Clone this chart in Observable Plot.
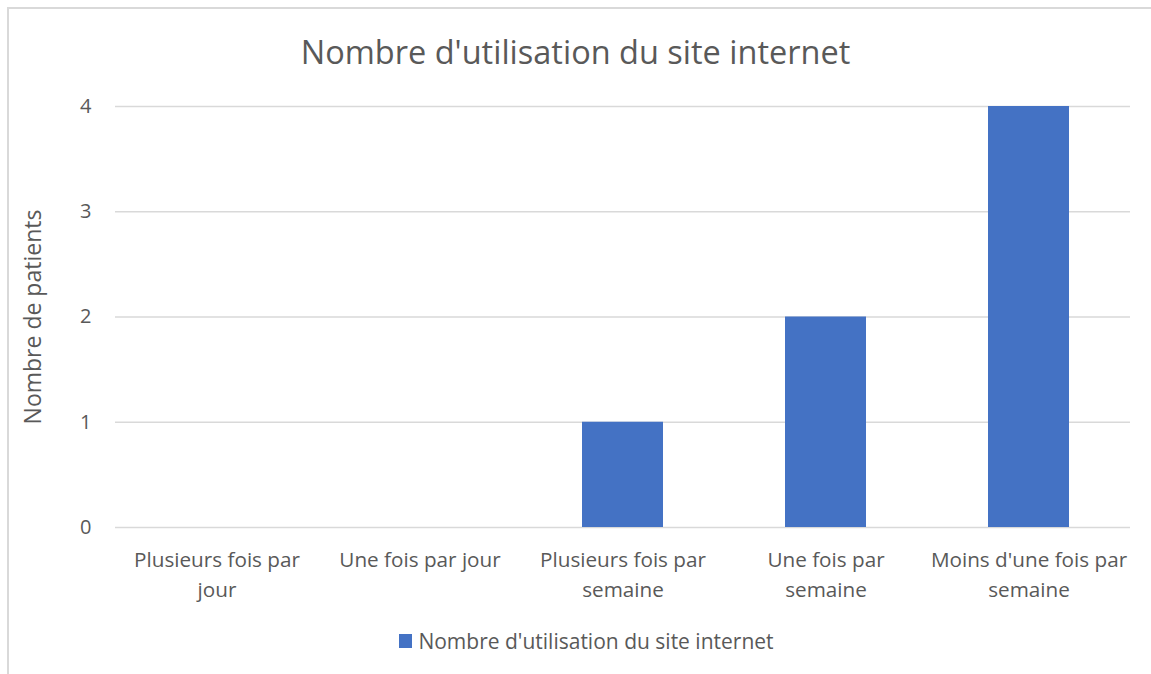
<!DOCTYPE html>
<html>
<head>
<meta charset="utf-8">
<script src="https://cdn.jsdelivr.net/npm/d3@7"></script>
<script src="https://cdn.jsdelivr.net/npm/@observablehq/plot@0.6"></script>
<style>
  html, body { margin: 0; padding: 0; background: #fff; }
  #wrap { position: relative; width: 1151px; height: 674px; overflow: hidden; font-family: "Open Sans", sans-serif; color: #595959; }
  #frame { position: absolute; left: 7px; top: 7px; width: 1160px; height: 700px; border-left: 2px solid #d9d9d9; border-top: 2px solid #d9d9d9; box-sizing: border-box; }
  #title { position: absolute; left: 0; top: 28px; width: 1151px; text-align: center; font-size: 32.5px; line-height: 48px; height: 48px; }
  #chart { position: absolute; left: 0; top: 90px; }
  #legend { position: absolute; left: 11px; top: 627px; width: 1151px; display: flex; justify-content: center; align-items: center; font-size: 21px; line-height: 28px; }
  #legend .sw { width: 13px; height: 14px; margin-right: 6px; }
</style>
</head>
<body>
<div id="wrap">
  <div id="frame"></div>
  <div id="title"></div>
  <div id="chart"></div>
  <div id="legend"></div>
</div>
<script>
const title = "Nombre d'utilisation du site internet";
const seriesName = "Nombre d'utilisation du site internet";
const yLabel = "Nombre de patients";
const categories = ["Plusieurs fois par jour", "Une fois par jour", "Plusieurs fois par semaine", "Une fois par semaine", "Moins d'une fois par semaine"];
const tickLabels = ["Plusieurs fois par\njour", "Une fois par jour", "Plusieurs fois par\nsemaine", "Une fois par\nsemaine", "Moins d'une fois par\nsemaine"];
const values = [0, 0, 1, 2, 4];
const yTicks = [0, 1, 2, 3, 4];
const barColor = "#4472C4";

const data = categories.map((c, i) => ({category: c, value: values[i]}));

document.getElementById("title").textContent = title;

const chart = Plot.plot({
  width: 1151,
  height: 530,
  marginLeft: 115,
  marginRight: 21,
  marginTop: 16,
  marginBottom: 93,
  style: {fontFamily: "Open Sans, sans-serif", fontSize: "20px", color: "#595959", background: "transparent"},
  x: {domain: categories, paddingInner: 0.6, paddingOuter: 0.3, label: null},
  y: {domain: [0, 4], label: null},
  marks: [
    Plot.gridY(yTicks, {stroke: "#d9d9d9", strokeOpacity: 1, strokeWidth: 1.4}),
    Plot.barY(data, {x: "category", y: "value", fill: barColor}),
    Plot.axisY(yTicks, {tickSize: 0, tickPadding: 24, tickFormat: d => String(d), label: yLabel, labelAnchor: "center", labelArrow: "none", labelOffset: 91, fontSize: 20, fill: "#595959"}),
    Plot.axisX({tickSize: 0, tickPadding: 18, tickFormat: d => tickLabels[categories.indexOf(d)], label: null, fontSize: 20.7, fill: "#595959", lineHeight: 1.45})
  ]
});
document.getElementById("chart").appendChild(chart);
chart.querySelectorAll("g[aria-label='y-axis label'] text").forEach(t => { t.style.fontSize = "23px"; });

const lg = document.getElementById("legend");
const sw = document.createElement("div"); sw.className = "sw"; sw.style.background = barColor;
const lt = document.createElement("span"); lt.textContent = seriesName;
lg.appendChild(sw); lg.appendChild(lt);
</script>
</body>
</html>
